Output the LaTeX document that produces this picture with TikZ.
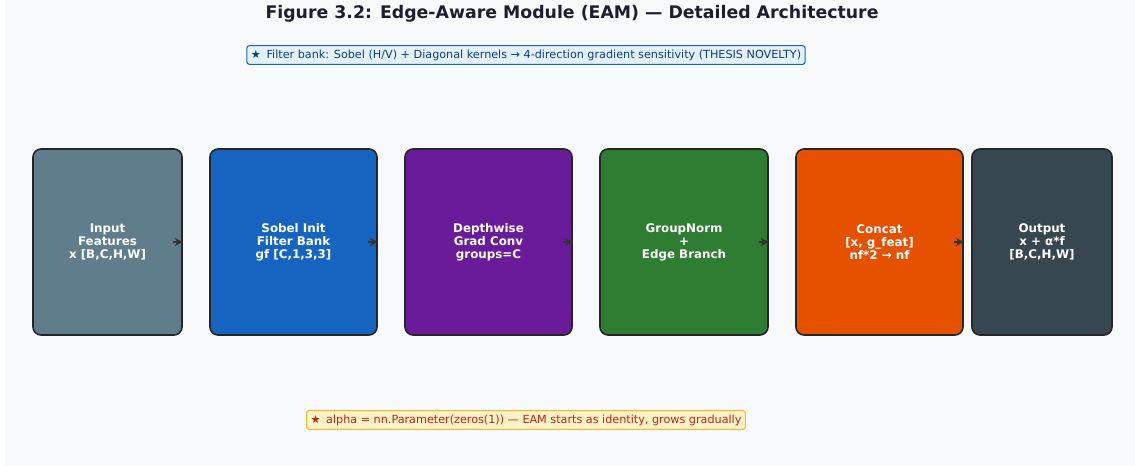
\documentclass[tikz,border=0pt]{standalone}
\usepackage{fontspec}
\setmainfont{DejaVu Sans}
\usetikzlibrary{positioning,arrows.meta}
\definecolor{bgcol}{HTML}{F8F9FB}
\definecolor{titlecol}{HTML}{1E1E32}
\definecolor{inputcol}{HTML}{607D8B}
\definecolor{sobelcol}{HTML}{1565C0}
\definecolor{dwcol}{HTML}{6A1B9A}
\definecolor{gncol}{HTML}{2E7D32}
\definecolor{catcol}{HTML}{E65100}
\definecolor{outcol}{HTML}{37474F}
\definecolor{edgecol}{HTML}{262626}
\definecolor{arrcol}{HTML}{333333}
\definecolor{topfill}{HTML}{E3F2FD}
\definecolor{toptext}{HTML}{0D3C8C}
\definecolor{botfill}{HTML}{FFF3C4}
\definecolor{botdraw}{HTML}{F2B53C}
\definecolor{bottext}{HTML}{C0221E}
\tikzset{>=Stealth,
  block/.style={draw=edgecol,line width=1.2pt,rounded corners=6pt,
    text=white,align=center,minimum height=139.5pt,
    font=\fontsize{8.9}{9.75}\selectfont\bfseries},
  note/.style={rounded corners=2pt,line width=0.8pt,inner xsep=3pt,
    inner ysep=3pt,font=\fontsize{8.4}{10}\selectfont},
  arr/.style={-{Stealth[length=6pt,width=6pt]},draw=arrcol,fill=arrcol,line width=1.4pt}}

\begin{document}
\begin{tikzpicture}[x=0.75pt,y=-0.75pt]
% Canvas 1140 x 466 px
\useasboundingbox (0,0) rectangle (1140,466);
\fill[white] (0,0) rectangle (1140,466);
\fill[bgcol] (5,0) rectangle (1135,466);

% Title
\node[text=titlecol,font=\fontsize{13}{15}\selectfont\bfseries] (title) at (572,14)
  {Figure 3.2: Edge-Aware Module (EAM) — Detailed Architecture};

% Notes
\node[note,draw=sobelcol,fill=topfill,text=toptext] (novelty) at (526,55)
  {★\enspace Filter bank: Sobel (H/V) + Diagonal kernels → 4-direction gradient sensitivity (THESIS NOVELTY)};
\node[note,draw=botdraw,fill=botfill,text=bottext] (alpha) at (526,420)
  {★\enspace alpha = nn.Parameter(zeros(1)) — EAM starts as identity, grows gradually};

% Blocks
\node[block,fill=inputcol,minimum width=111.75pt] (inp) at (107.5,242) {Input\\Features\\x [B,C,H,W]};
\node[block,fill=sobelcol,minimum width=125.25pt] (sobel) at (293.5,242) {Sobel Init\\Filter Bank\\gf [C,1,3,3]};
\node[block,fill=dwcol,minimum width=125.25pt] (dwconv) at (488.5,242) {Depthwise\\Grad Conv\\groups=C};
\node[block,fill=gncol,minimum width=126pt] (gnorm) at (684,242) {GroupNorm\\+\\Edge Branch};
\node[block,fill=catcol,minimum width=125.25pt] (concat) at (879.5,242) {Concat\\{[x, g\_feat]}\\nf*2 → nf};
\node[block,fill=outcol,minimum width=105pt] (outp) at (1042,242) {Output\\x + α*f\\{[B,C,H,W]}};

% Arrows
\foreach \b in {inp,sobel,dwconv,gnorm,concat}
  \draw[arr] ([xshift=-7pt]\b.east) -- (\b.east);

\end{tikzpicture}
\end{document}
